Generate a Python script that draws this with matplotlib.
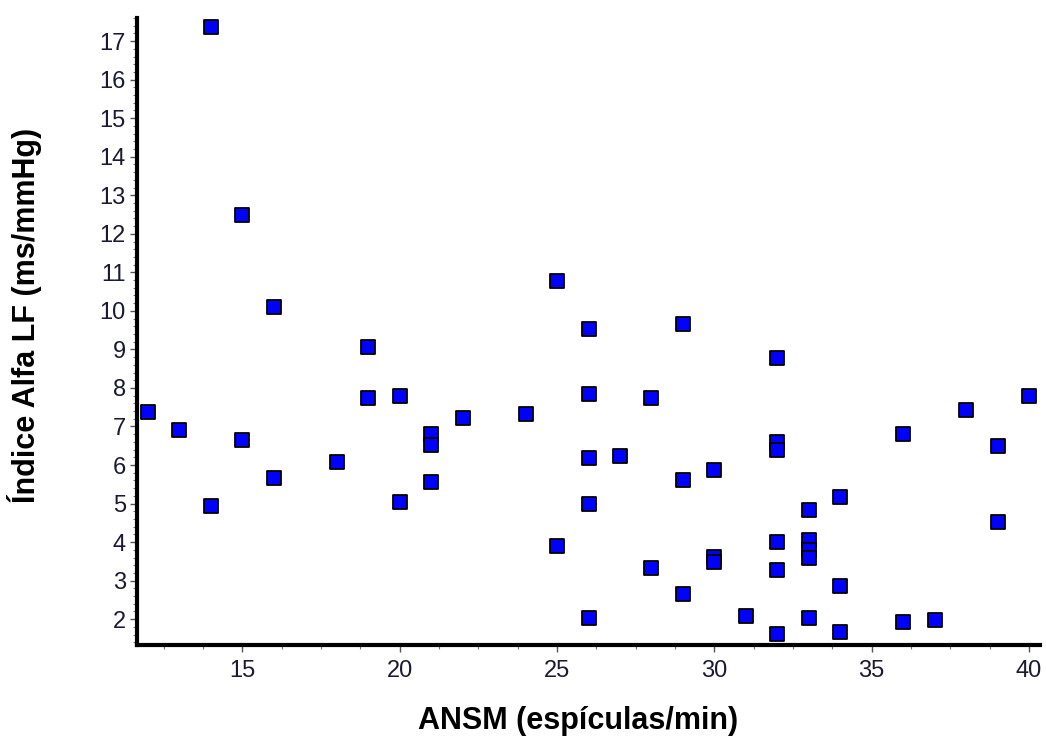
import matplotlib.pyplot as plt
from matplotlib.ticker import MultipleLocator

# ANSM (spikes/min) vs alpha index LF
ansm = [12, 13, 14, 14, 15, 15, 16, 16, 18, 19, 19, 20, 20, 21, 21, 21, 22, 24,
        25, 25, 26, 26, 26, 26, 26, 27, 28, 28, 29, 29, 29, 30, 30, 30, 31,
        32, 32, 32, 32, 32, 32, 33, 33, 33, 33, 33, 34, 34, 34, 36, 36, 37,
        38, 39, 39, 40]
alfa_lf = [7.38, 6.92, 17.36, 4.94, 12.48, 6.66, 10.1, 5.67, 6.08, 9.05, 7.75,
           7.8, 5.05, 6.81, 6.53, 5.57, 7.23, 7.33,
           10.77, 3.9, 9.52, 7.85, 6.19, 4.99, 2.03, 6.24, 7.75, 3.33,
           9.67, 5.62, 2.66, 5.86, 3.62, 3.49, 2.09,
           8.79, 6.61, 6.4, 4.0, 3.28, 1.62, 4.84, 4.06, 3.8, 3.59, 2.03,
           5.18, 2.86, 1.67, 6.81, 1.93, 1.98,
           7.44, 6.5, 4.53, 7.8]

plt.rcParams['font.family'] = ['Liberation Sans', 'DejaVu Sans']

fig = plt.figure(figsize=(10.46, 7.4), dpi=100)
ax = fig.add_axes([137 / 1046, 95 / 740, 903 / 1046, 627 / 740])

ax.scatter(ansm, alfa_lf, marker='s', s=115, c='#0000ff',
           edgecolors='black', linewidths=1.3, zorder=3, clip_on=False)

ax.set_xlim(11.65, 40.35)
ax.set_ylim(1.33, 17.6)
ax.xaxis.set_major_locator(MultipleLocator(5))
ax.xaxis.set_minor_locator(MultipleLocator(1.25))
ax.yaxis.set_major_locator(MultipleLocator(1))
ax.yaxis.set_minor_locator(MultipleLocator(0.2))

for side in ['top', 'right']:
    ax.spines[side].set_visible(False)
for side in ['left', 'bottom']:
    ax.spines[side].set_linewidth(3)

ax.tick_params(which='major', direction='out', length=5, width=1,
               color='#555555', labelsize=17, labelcolor='#1a1a33')
ax.tick_params(axis='x', which='major', pad=6)
ax.tick_params(axis='y', which='major', pad=3)
ax.tick_params(which='minor', direction='out', length=3, width=0.8,
               color='#777777')

ax.set_xlabel('ANSM (espículas/min)', fontsize=22, fontweight='bold')
ax.set_ylabel('Índice Alfa LF (ms/mmHg)', fontsize=22, fontweight='bold')
ax.xaxis.set_label_coords(0.488, -0.097)
ax.yaxis.set_label_coords(-0.105, 0.526)

fig.savefig('out.png', dpi=100)
